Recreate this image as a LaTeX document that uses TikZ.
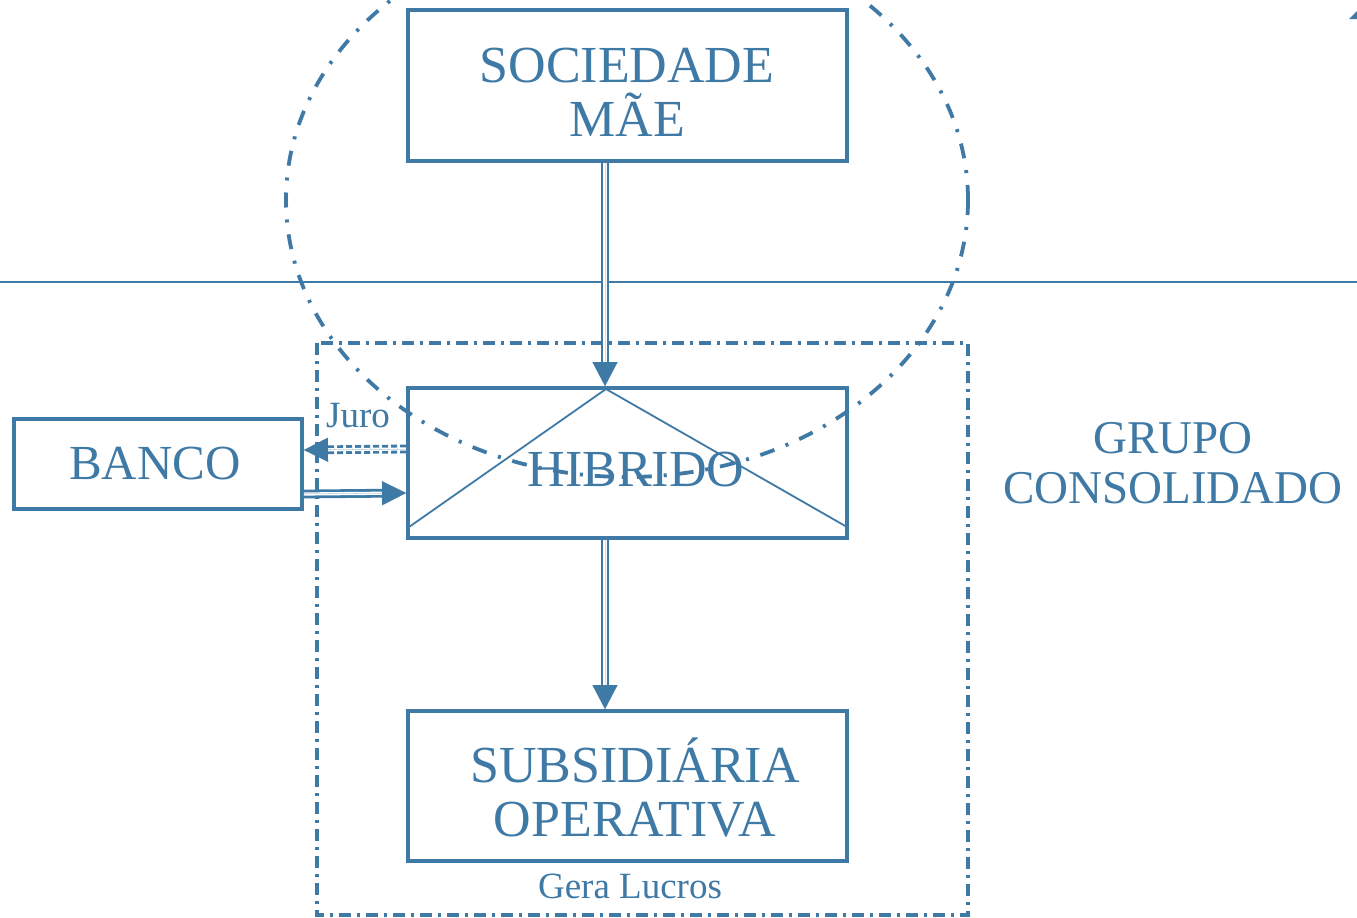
\documentclass[tikz,border=0pt]{standalone}
\usepackage{fontspec}
\setmainfont{Liberation Serif}
\usetikzlibrary{arrows.meta,calc}
\definecolor{bl}{HTML}{3F79A5}
\tikzset{
  box/.style={draw=bl, line width=3.8pt, inner sep=0pt, minimum width=439pt, minimum height=150pt, text=bl, align=center},
  captext/.style={font=\fontsize{52}{56}\selectfont, text=bl, align=center},
  lbl/.style={font=\fontsize{37}{40}\selectfont, text=bl},
  dshaft/.style={draw=bl, double=white, line width=2.8pt, double distance=3.2pt},
  dtip/.style={draw=bl, fill=bl, line width=0.01pt, -{Triangle[length=24pt,width=25pt]}},
  htip/.style={draw=bl, fill=bl, line width=0.01pt, -{Triangle[length=24pt,width=24pt]}},
}
\begin{document}
\begin{tikzpicture}[x=1pt,y=-1pt]
\useasboundingbox (0,0) rectangle (1357,918);
\fill[white] (0,0) rectangle (1357,918);
% horizontal divider
\draw[bl, line width=2.5pt] (0,282) -- (1357,282);
% group frame
\draw[bl, line width=3.5pt, dash pattern=on 12pt off 6pt on 3pt off 6pt] (317,343) rectangle (968,915);
% nodes
\node[box, minimum height=151pt] (soc) at (627.5,85.5) {};
\node[captext] (soct) at (627,92) {SOCIEDADE\\[-2pt]MÃE};
\node[box] (hib) at (627.5,463) {};
\node[box] (sub) at (627.5,786) {};
\node[captext] (subt) at (635,788) {SUBSIDIÁRIA\\[-2pt]OPERATIVA};
\node[box, minimum width=288pt, minimum height=90pt] (ban) at (158,464) {};
\node[captext, font=\fontsize{49}{52}\selectfont] (bant) at (155,464) {BANCO};
% envelope lines inside hibrido
\coordinate (apex) at (606,389);
\coordinate (envl) at (409,527);
\coordinate (envr) at (847,527);
\draw[bl, line width=1.8pt] (envl) -- (apex) -- (envr);
\node[captext] (hibt) at (636,470) {HIBRIDO};
% ellipse
\begin{scope}
\clip (0,0) rectangle (1357,918);
\draw[bl, line width=3.8pt, dash pattern=on 15pt off 12pt on 3pt off 12pt] (627,200) ellipse [x radius=341, y radius=277];
\end{scope}
% connectors
\draw[dshaft, shorten >=22pt] ([xshift=-22.5pt]soc.south) -- ([xshift=-22.5pt]hib.north);
\draw[dtip] ([xshift=-22.5pt]soc.south) -- ([xshift=-22.5pt]hib.north);
\draw[dshaft, shorten >=22pt] ([xshift=-22.5pt]hib.south) -- ([xshift=-22.5pt]sub.north);
\draw[dtip] ([xshift=-22.5pt]hib.south) -- ([xshift=-22.5pt]sub.north);
\draw[dshaft, shorten >=22pt] ([yshift=-30pt]ban.east) -- ([yshift=-30pt]hib.west);
\draw[htip] ([yshift=-30pt]ban.east) -- ([yshift=-30pt]hib.west);
\draw[dshaft, dash pattern=on 6pt off 3pt, shorten >=22pt] ([yshift=14pt]hib.west) -- ([yshift=14pt]ban.east);
\draw[htip] ([yshift=14pt]hib.west) -- ([yshift=14pt]ban.east);
% labels
\node[lbl] (juro) at (358,416) {Juro};
\node[lbl] (gera) at (630,886) {Gera Lucros};
\node[captext, font=\fontsize{47}{50}\selectfont] (grupo) at (1173,463) {GRUPO\\CONSOLIDADO};
% corner fragment
\fill[bl] (1349,19) -- (1357,11) -- (1357,19) -- cycle;
\end{tikzpicture}
\end{document}
